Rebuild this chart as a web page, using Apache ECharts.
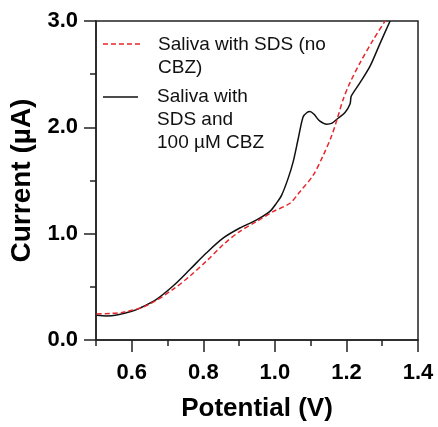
<!DOCTYPE html>
<html><head><meta charset="utf-8">
<script src="https://cdn.jsdelivr.net/npm/echarts@6/dist/echarts.min.js"></script>
<style>html,body{margin:0;padding:0;background:#fff}#c{width:438px;height:427px}</style>
</head><body><div id="c"></div>
<script>
const seriesNames = ['Saliva with SDS (no\nCBZ)', 'Saliva with\nSDS and\n100 µM CBZ'];
const redX = [0.502,0.54,0.576,0.641,0.716,0.763,0.809,0.856,0.902,0.949,0.996,1.042,1.07,1.107,1.135,1.159,1.174,1.191,1.21,1.238,1.275,1.308];
const redY = [0.245,0.25,0.261,0.323,0.478,0.603,0.743,0.898,1.022,1.115,1.209,1.286,1.395,1.55,1.736,1.923,2.078,2.265,2.42,2.607,2.824,3.0];
const blackX = [0.502,0.53,0.558,0.6,0.623,0.67,0.716,0.763,0.809,0.856,0.902,0.949,0.986,1.005,1.019,1.037,1.051,1.065,1.079,1.09,1.098,1.11,1.125,1.145,1.16,1.174,1.196,1.21,1.213,1.218,1.238,1.266,1.294,1.322];
const blackY = [0.232,0.226,0.235,0.27,0.30,0.385,0.51,0.665,0.82,0.96,1.053,1.13,1.21,1.29,1.363,1.52,1.675,1.89,2.10,2.14,2.15,2.12,2.06,2.03,2.04,2.078,2.14,2.22,2.29,2.32,2.42,2.575,2.79,3.0];
const xMajor = [0.6,0.8,1.0,1.2,1.4];
const xMinor = [0.5,0.7,0.9,1.1,1.3];
const yMajor = [0,1,2,3];
const yMinor = [0.5,1.5,2.5];

const chart = echarts.init(document.getElementById('c'), null, {renderer:'canvas'});
const axisColor = '#222';
const font = '"Liberation Sans", Arial, sans-serif';
const labelStyle = {fontFamily:font,fontWeight:'bold',fontSize:22,color:'#000'};
chart.setOption({
  animation:false,
  backgroundColor:'#fff',
  grid:{left:96,right:20,top:21,bottom:84,show:true,borderColor:axisColor,borderWidth:1.5,backgroundColor:'transparent'},
  xAxis:[
    {type:'value',min:0.5,max:1.4,position:'bottom',
     name:'Potential (V)',nameLocation:'middle',nameGap:56,
     nameTextStyle:{fontFamily:font,fontWeight:'bold',fontSize:26,color:'#000'},
     axisLine:{show:true,lineStyle:{color:axisColor,width:1.5}},
     axisTick:{show:true,inside:false,length:12,customValues:xMajor,lineStyle:{color:axisColor,width:1.5}},
     splitLine:{show:false},
     axisLabel:Object.assign({margin:22,customValues:xMajor,formatter:v=>v.toFixed(1)},labelStyle)},
    {type:'value',min:0.5,max:1.4,position:'bottom',offset:0,
     axisLine:{show:false},
     axisTick:{show:true,inside:false,length:6,customValues:xMinor,lineStyle:{color:axisColor,width:1.5}},
     splitLine:{show:false},axisLabel:{show:false}}
  ],
  yAxis:[
    {type:'value',min:0,max:3,position:'left',
     name:'Current (µA)',nameLocation:'middle',nameGap:58,
     nameTextStyle:{fontFamily:font,fontWeight:'bold',fontSize:28,color:'#000'},
     axisLine:{show:true,lineStyle:{color:axisColor,width:1.5}},
     axisTick:{show:true,inside:false,length:12,customValues:yMajor,lineStyle:{color:axisColor,width:1.5}},
     splitLine:{show:false},
     axisLabel:Object.assign({margin:18,customValues:yMajor,formatter:v=>v.toFixed(1)},labelStyle)},
    {type:'value',min:0,max:3,position:'left',offset:0,
     axisLine:{show:false},
     axisTick:{show:true,inside:false,length:6,customValues:yMinor,lineStyle:{color:axisColor,width:1.5}},
     splitLine:{show:false},axisLabel:{show:false}}
  ],
  series:[
    {name:seriesNames[0],type:'line',smooth:0.3,showSymbol:false,clip:true,
     data:redX.map((x,i)=>[x,redY[i]]),
     lineStyle:{color:'#e8262b',width:1.5,type:[5,3]},z:3},
    {name:seriesNames[1],type:'line',smooth:0.3,showSymbol:false,clip:true,
     data:blackX.map((x,i)=>[x,blackY[i]]),
     lineStyle:{color:'#111',width:1.5},z:2}
  ],
  graphic:[
    {type:'line',shape:{x1:103,y1:44,x2:140,y2:44},style:{stroke:'#e8262b',lineWidth:1.5,lineDash:[5,3]}},
    {type:'text',left:158,top:33,style:{text:seriesNames[0],font:'19px '+font,fill:'#111',lineHeight:23}},
    {type:'line',shape:{x1:103,y1:97,x2:138,y2:97},style:{stroke:'#111',lineWidth:1.5}},
    {type:'text',left:157,top:85,style:{text:seriesNames[1],font:'19px '+font,fill:'#111',lineHeight:23}}
  ]
});
</script></body></html>
